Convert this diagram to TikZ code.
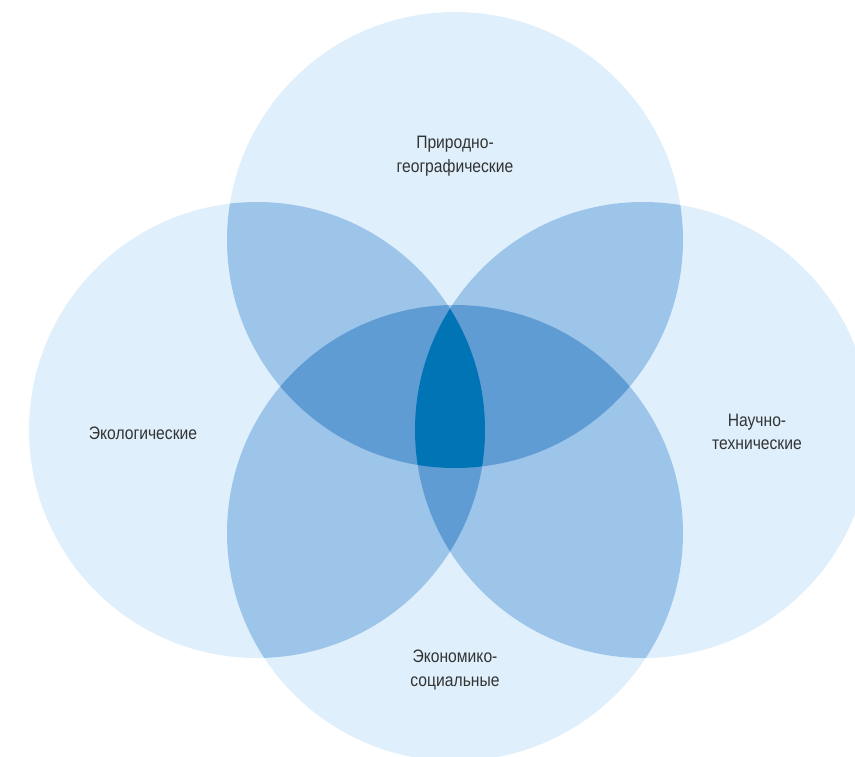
\documentclass[tikz,border=0pt]{standalone}
\usepackage{fontspec}
\setmainfont{Liberation Sans}[FakeStretch=0.87]
\definecolor{c1}{HTML}{DFF0FC}
\definecolor{c2}{HTML}{9DC5EA}
\definecolor{c3}{HTML}{609CD4}
\definecolor{c4}{HTML}{0074B4}
\definecolor{txt}{HTML}{333333}
\tikzset{lbl/.style={text=txt,font=\fontsize{18}{23.5}\selectfont,align=center,inner sep=0pt}}
\def\rr{228}
\def\CT{(455,240) circle (\rr)}
\def\CB{(455,533) circle (\rr)}
\def\CL{(257,430) circle (\rr)}
\def\CR{(643,430) circle (\rr)}
\begin{document}
\begin{tikzpicture}[x=1pt,y=-1pt]
\useasboundingbox (0,0) rectangle (855,757);
\begin{scope}
\clip (0,0) rectangle (855,757);
% singles
\fill[c1] \CT; \fill[c1] \CB; \fill[c1] \CL; \fill[c1] \CR;
% pairs
\begin{scope}\clip \CT; \fill[c2] \CL; \fill[c2] \CR; \fill[c2] \CB; \end{scope}
\begin{scope}\clip \CB; \fill[c2] \CL; \fill[c2] \CR; \end{scope}
\begin{scope}\clip \CL; \fill[c2] \CR; \end{scope}
% triples
\begin{scope}\clip \CT; \clip \CB; \fill[c3] \CL; \fill[c3] \CR; \end{scope}
\begin{scope}\clip \CL; \clip \CR; \fill[c3] \CT; \fill[c3] \CB; \end{scope}
% quad
\begin{scope}\clip \CT; \clip \CB; \clip \CL; \fill[c4] \CR; \end{scope}
\end{scope}
\node[lbl] (top) at (455,156) {Природно-\\географические};
\node[lbl] (left) at (143,433) {Экологические};
\node[lbl] (right) at (757,432) {Научно-\\технические};
\node[lbl] (bottom) at (455,670) {Экономико-\\социальные};
\end{tikzpicture}
\end{document}
